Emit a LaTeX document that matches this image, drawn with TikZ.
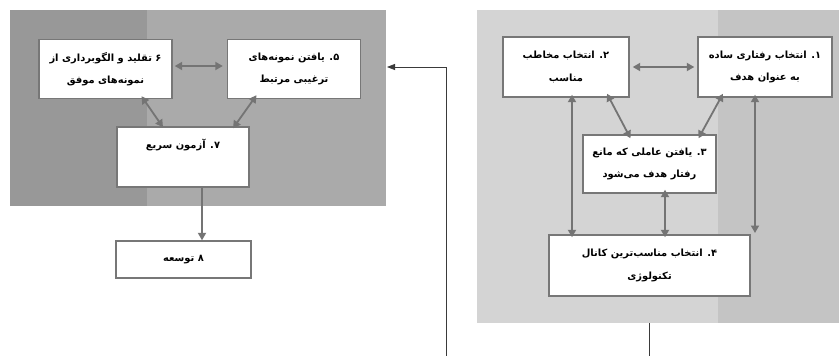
\documentclass[tikz,border=0pt]{standalone}
\usepackage{fontspec}
\newfontfamily\fa[Script=Arabic]{DejaVu Sans}
\TeXXeTstate=1
\usetikzlibrary{arrows.meta}
\definecolor{lpdark}{HTML}{989898}
\definecolor{lplight}{HTML}{AAAAAA}
\definecolor{rplight}{HTML}{D4D4D4}
\definecolor{rpdark}{HTML}{C4C4C4}
\definecolor{boxc}{HTML}{777777}
\definecolor{arrc}{HTML}{747474}
\definecolor{linec}{HTML}{3A3A3A}
\begin{document}
\begin{tikzpicture}[x=1pt,y=-1pt,
  box/.style={draw=boxc, line width=1.4pt, fill=white, inner sep=0pt, align=center,
    font=\fa\bfseries\fontsize{9.9}{11.5}\selectfont},
  arr/.style={draw=arrc, line width=1.8pt, {Triangle[length=7.5pt,width=8pt]}-{Triangle[length=7.5pt,width=8pt]}},
  one/.style={draw=arrc, line width=1.8pt, -{Triangle[length=7.5pt,width=8pt]}},
  thin/.style={draw=linec, line width=0.8pt}]
\useasboundingbox (0,0) rectangle (839,356);
\fill[white] (0,0) rectangle (839,356);
% panels
\fill[lpdark] (10,10) rectangle (147,206);
\fill[lplight] (147,10) rectangle (386,206);
\fill[rplight] (477,10) rectangle (718,323);
\fill[rpdark] (718,10) rectangle (839,323);
\coordinate (lpE) at (387,67);
\coordinate (rpS) at (649,323);
\coordinate (bot1) at (446,356);
\coordinate (bot2) at (649,356);
\coordinate (c1) at (755,233);
% boxes
\node[box, minimum width=134pt, minimum height=60pt] (b1) at (765,67)
  {\beginR ۱. انتخاب رفتاری ساده\endR\\[11pt]\beginR به عنوان هدف\endR};
\node[box, minimum width=126pt, minimum height=60pt] (b2) at (566,67)
  {\beginR ۲. انتخاب مخاطب\endR\\[11pt]\beginR مناسب\endR};
\node[box, minimum width=133pt, minimum height=58pt] (b3) at (649.5,164)
  {\beginR ۳. یافتن عاملی که مانع\endR\\[11pt]\beginR رفتار هدف می^^^^200cشود\endR};
\node[box, minimum width=201pt, minimum height=61pt] (b4) at (649.5,265.5)
  {\beginR ۴. انتخاب مناسب^^^^200cترین کانال\endR\\[11pt]\beginR تکنولوژی\endR};
\node[box, minimum width=133pt, minimum height=59pt] (b5) at (294,69)
  {\beginR ۵. یافتن نمونه^^^^200cهای\endR\\[11pt]\beginR ترغیبی مرتبط\endR};
\node[box, minimum width=133pt, minimum height=59pt] (b6) at (105.5,69)
  {\beginR ۶ تقلید و الگوبرداری از\endR\\[11pt]\beginR نمونه^^^^200cهای موفق\endR};
\node[box, minimum width=132pt, minimum height=60pt] (b7) at (183,157)
  {\beginR ۷. آزمون سریع\endR\\[11pt]\strut};
\node[box, minimum width=135pt, minimum height=37pt] (b8) at (183.5,259.5)
  {\beginR ۸ توسعه\endR};
% arrows right panel
\draw[arr] ([xshift=3pt]b2.east) -- ([xshift=-3pt]b1.west);
\draw[arr] ([xshift=41pt,yshift=4pt]b2.south) -- ([xshift=-19pt,yshift=-4pt]b3.north);
\draw[arr] ([xshift=-42pt,yshift=4pt]b1.south) -- ([xshift=49pt,yshift=-4pt]b3.north);
\draw[arr] ([xshift=6pt,yshift=3pt]b2.south) -- ([xshift=-77.5pt,yshift=-3pt]b4.north);
\draw[arr] ([xshift=15.5pt,yshift=4pt]b3.south) -- ([xshift=15.5pt,yshift=-3pt]b4.north);
\draw[arr] ([xshift=-10pt,yshift=3pt]b1.south) -- (c1);
% arrows left panel
\draw[arr] ([xshift=2pt,yshift=3pt]b6.east) -- ([xshift=-4pt,yshift=3pt]b5.west);
\draw[arr] ([xshift=36pt,yshift=3pt]b6.south) -- ([xshift=-20pt,yshift=-1pt]b7.north);
\draw[arr] ([xshift=-37.5pt,yshift=4pt]b5.south) -- ([xshift=50pt,yshift=-2pt]b7.north);
\draw[one] ([xshift=19pt]b7.south) -- ([xshift=18.5pt]b8.north);
% thin connectors
\draw[thin, -{Triangle[length=8pt,width=6pt]}] (bot1) -- (446,67) -- (lpE);
\draw[thin] (rpS) -- (bot2);
\end{tikzpicture}
\end{document}
